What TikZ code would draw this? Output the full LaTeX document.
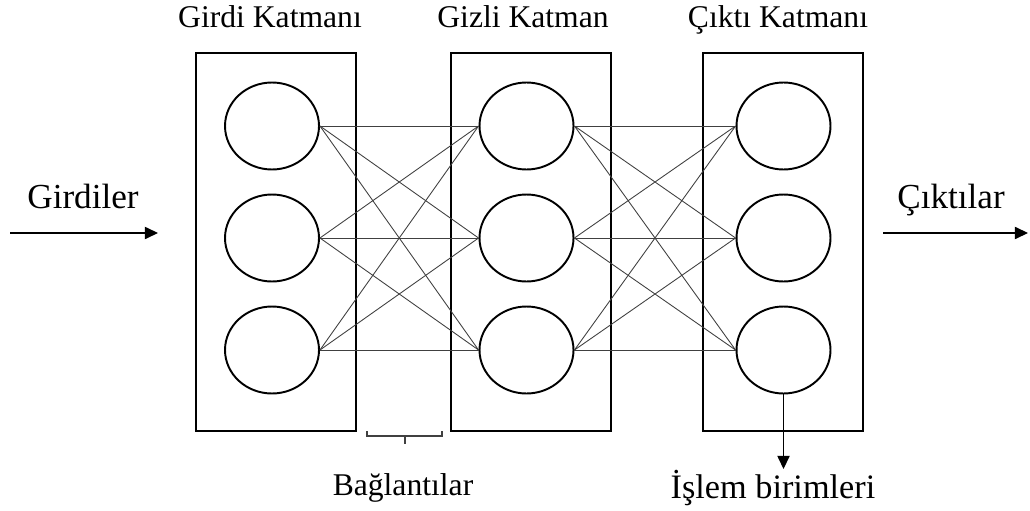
\documentclass[tikz,border=0pt]{standalone}
\usepackage{fontspec}
\setmainfont{Liberation Serif}
\usetikzlibrary{shapes.geometric,arrows.meta}

\begin{document}
\begin{tikzpicture}[x=0.02cm, y=-0.02cm, >={Triangle[length=7.5pt,width=7pt]},
                    layerbox/.style={draw, line width=1.2pt, minimum width=3.2cm, minimum height=7.56cm, inner sep=0pt},
                    unit/.style={draw, ellipse, line width=1.1pt, minimum width=1.88cm, minimum height=1.74cm, inner sep=0pt},
                    link/.style={black!75, line width=0.5pt},
                    title/.style={anchor=base, font=\fontsize{18}{20}\selectfont},
                    biglabel/.style={anchor=base, font=\fontsize{20}{22}\selectfont}]

\useasboundingbox (0,0) rectangle (1030,510);

%% ==== 三個層的方框 ====================================================
\node[layerbox] (inbox)  at (276,242) {};
\node[layerbox] (hidbox) at (531,242) {};
\node[layerbox] (outbox) at (783,242) {};

%% 層的名稱
\node[title] (intitle)  at (270,28) {Girdi Katmanı};
\node[title] (hidtitle) at (523,28) {Gizli Katman};
\node[title] (outtitle) at (778,28) {Çıktı Katmanı};

%% ==== 各層的處理單元 ==================================================
\foreach \k/\y in {1/126, 2/238, 3/350} {
  \node[unit] (in\k)  at (272,\y) {};
  \node[unit] (hid\k) at (526.5,\y) {};
  \node[unit] (out\k) at (783.5,\y) {};
}

%% ==== 單元之間的連結 ==================================================
\foreach \a in {1,2,3} {
  \foreach \b in {1,2,3} {
    \draw[link] (in\a.east) -- (hid\b.west);
    \draw[link] (hid\a.east) -- (out\b.west);
  }
}

%% ==== 輸入與輸出箭頭 ==================================================
\coordinate (instart) at (10,233);
\coordinate (inend)   at (158,233);
\coordinate (outstart) at (883,233);
\coordinate (outend)   at (1028,233);
\draw[line width=0.7pt, ->] (instart) -- (inend);
\draw[line width=0.7pt, ->] (outstart) -- (outend);
\node[biglabel] (inlabel)  at (83,208)  {Girdiler};
\node[biglabel] (outlabel) at (951,208) {Çıktılar};

%% ==== 連結的括號 ======================================================
\draw[black!75, line width=0.6pt] (367,431) -- (367,436) -- (442,436) -- (442,431);
\coordinate (bracemid) at (405,436);
\coordinate (bracetip) at (405,444);
\draw[black!75, line width=0.6pt] (bracemid) -- (bracetip);
\node[title] (linklabel) at (403,495) {Bağlantılar};

%% ==== 處理單元的說明 ==================================================
\coordinate (unittip) at (783.5,469);
\draw[line width=0.7pt, ->] (out3.south) -- (unittip);
\node[biglabel, font=\fontsize{19.5}{22}\selectfont] (unitlabel) at (773,498) {İşlem birimleri};

\end{tikzpicture}
\end{document}
